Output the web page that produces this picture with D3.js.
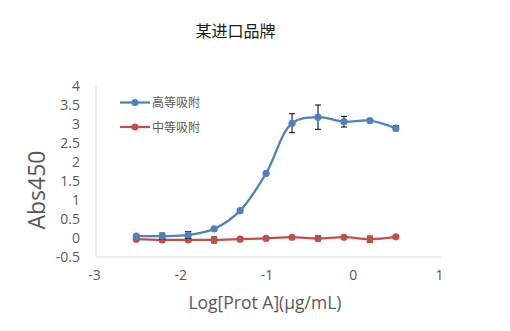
<!DOCTYPE html>
<html>
<head>
<meta charset="utf-8">
<script src="https://cdn.jsdelivr.net/npm/d3@7"></script>
<style>
  html, body { margin: 0; padding: 0; background: #fff; }
  svg { display: block; }
  text { font-family: "Open Sans", "Noto Sans CJK SC", sans-serif; }
</style>
</head>
<body>
<svg id="chart" width="510" height="331"></svg>
<script>
// Two-fold dilution series starting at 3 µg/mL, plotted as log10 concentration
const logConc = [-2.533, -2.232, -1.931, -1.630, -1.329, -1.028, -0.727, -0.426, -0.125, 0.176, 0.477];

const highAbs = [0.05, 0.05, 0.08, 0.24, 0.72, 1.70, 3.02, 3.18, 3.06, 3.09, 2.89];
const highErr = [0.03, 0.08, 0.09, 0.03, 0.03, 0.03, 0.25, 0.32, 0.14, 0.04, 0.07];

const midAbs = [-0.03, -0.05, -0.05, -0.05, -0.03, -0.01, 0.02, -0.01, 0.02, -0.03, 0.03];
const midErr = [0.02, 0.02, 0.02, 0.08, 0.02, 0.02, 0.03, 0.07, 0.02, 0.08, 0.04];

const seriesNames = ["高等吸附", "中等吸附"];
const seriesColors = ["#4F81BD", "#C0504D"];

const xTicks = [-3, -2, -1, 0, 1];
const yTicks = [-0.5, 0, 0.5, 1, 1.5, 2, 2.5, 3, 3.5, 4];

const titleText = "某进口品牌";
const xTitle = "Log[Prot A](μg/mL)";
const yTitle = "Abs450";

const svg = d3.select("#chart");

const x = d3.scaleLinear().domain([-3, 1]).range([96, 441]);
const y = d3.scaleLinear().domain([-0.5, 4]).range([257, 86]);

// Title
svg.append("text")
  .attr("x", 235.5).attr("y", 37)
  .attr("text-anchor", "middle")
  .attr("font-size", 16)
  .attr("fill", "#1a1a1a")
  .text(titleText);

// Axis lines
svg.append("line")
  .attr("x1", x(-3)).attr("x2", x(-3))
  .attr("y1", y(4)).attr("y2", y(-0.5))
  .attr("stroke", "#d9d9d9").attr("stroke-width", 1);
svg.append("line")
  .attr("x1", x(-3)).attr("x2", x(1))
  .attr("y1", y(-0.5)).attr("y2", y(-0.5))
  .attr("stroke", "#d9d9d9").attr("stroke-width", 1);

// Y axis tick labels
const yAxis = d3.axisLeft(y).tickValues(yTicks).tickSize(0).tickPadding(0)
  .tickFormat(d => String(d));
const yg = svg.append("g").attr("transform", "translate(80,0)").call(yAxis);
yg.select(".domain").remove();
yg.selectAll("text")
  .attr("font-size", 14)
  .attr("fill", "#595959")
  .attr("font-family", "'Open Sans', sans-serif");

// X axis tick labels
const xAxis = d3.axisBottom(x).tickValues(xTicks).tickSize(0).tickPadding(0)
  .tickFormat(d => String(d));
const xg = svg.append("g").attr("transform", "translate(-2,270)").call(xAxis);
xg.select(".domain").remove();
xg.selectAll("text")
  .attr("font-size", 14)
  .attr("fill", "#595959")
  .attr("font-family", "'Open Sans', sans-serif");

// Axis titles
svg.append("text")
  .attr("x", 265).attr("y", 309)
  .attr("text-anchor", "middle")
  .attr("font-size", 17.5)
  .attr("fill", "#595959")
  .text(xTitle);

svg.append("text")
  .attr("transform", "translate(45,190) rotate(-90)")
  .attr("text-anchor", "middle")
  .attr("font-size", 23)
  .attr("fill", "#595959")
  .text(yTitle);

// Series
const series = [
  { values: midAbs, errors: midErr, color: seriesColors[1] },
  { values: highAbs, errors: highErr, color: seriesColors[0] }
];

const line = d3.line()
  .x(d => x(d.x))
  .y(d => y(d.y))
  .curve(d3.curveCatmullRom.alpha(0.5));

series.forEach(s => {
  const pts = logConc.map((c, i) => ({ x: c, y: s.values[i], e: s.errors[i] }));
  const g = svg.append("g");

  g.append("path")
    .datum(pts)
    .attr("fill", "none")
    .attr("stroke", s.color)
    .attr("stroke-width", 2.25)
    .attr("d", line);

  // Error bars (drawn beneath the markers)
  const eb = g.selectAll("g.err").data(pts).enter().append("g").attr("class", "err");
  eb.append("line")
    .attr("x1", d => x(d.x)).attr("x2", d => x(d.x))
    .attr("y1", d => y(d.y + d.e)).attr("y2", d => y(d.y - d.e))
    .attr("stroke", "#000").attr("stroke-width", 1);
  eb.append("line")
    .attr("x1", d => x(d.x) - 3).attr("x2", d => x(d.x) + 3)
    .attr("y1", d => y(d.y + d.e)).attr("y2", d => y(d.y + d.e))
    .attr("stroke", "#000").attr("stroke-width", 1);
  eb.append("line")
    .attr("x1", d => x(d.x) - 3).attr("x2", d => x(d.x) + 3)
    .attr("y1", d => y(d.y - d.e)).attr("y2", d => y(d.y - d.e))
    .attr("stroke", "#000").attr("stroke-width", 1);

  g.selectAll("circle")
    .data(pts)
    .enter().append("circle")
    .attr("cx", d => x(d.x))
    .attr("cy", d => y(d.y))
    .attr("r", 3.6)
    .attr("fill", s.color);
});

// Legend
const legend = svg.append("g");
seriesNames.forEach((name, i) => {
  const ly = 102.5 + i * 24.5;
  legend.append("line")
    .attr("x1", 120).attr("x2", 150)
    .attr("y1", ly).attr("y2", ly)
    .attr("stroke", seriesColors[i]).attr("stroke-width", 2.25);
  legend.append("circle")
    .attr("cx", 135).attr("cy", ly).attr("r", 3.6)
    .attr("fill", seriesColors[i]);
  legend.append("text")
    .attr("x", 152).attr("y", ly + 4.5)
    .attr("font-size", 12)
    .attr("fill", "#595959")
    .attr("font-family", "'Noto Sans CJK SC', sans-serif")
    .text(name);
});
</script>
</body>
</html>
